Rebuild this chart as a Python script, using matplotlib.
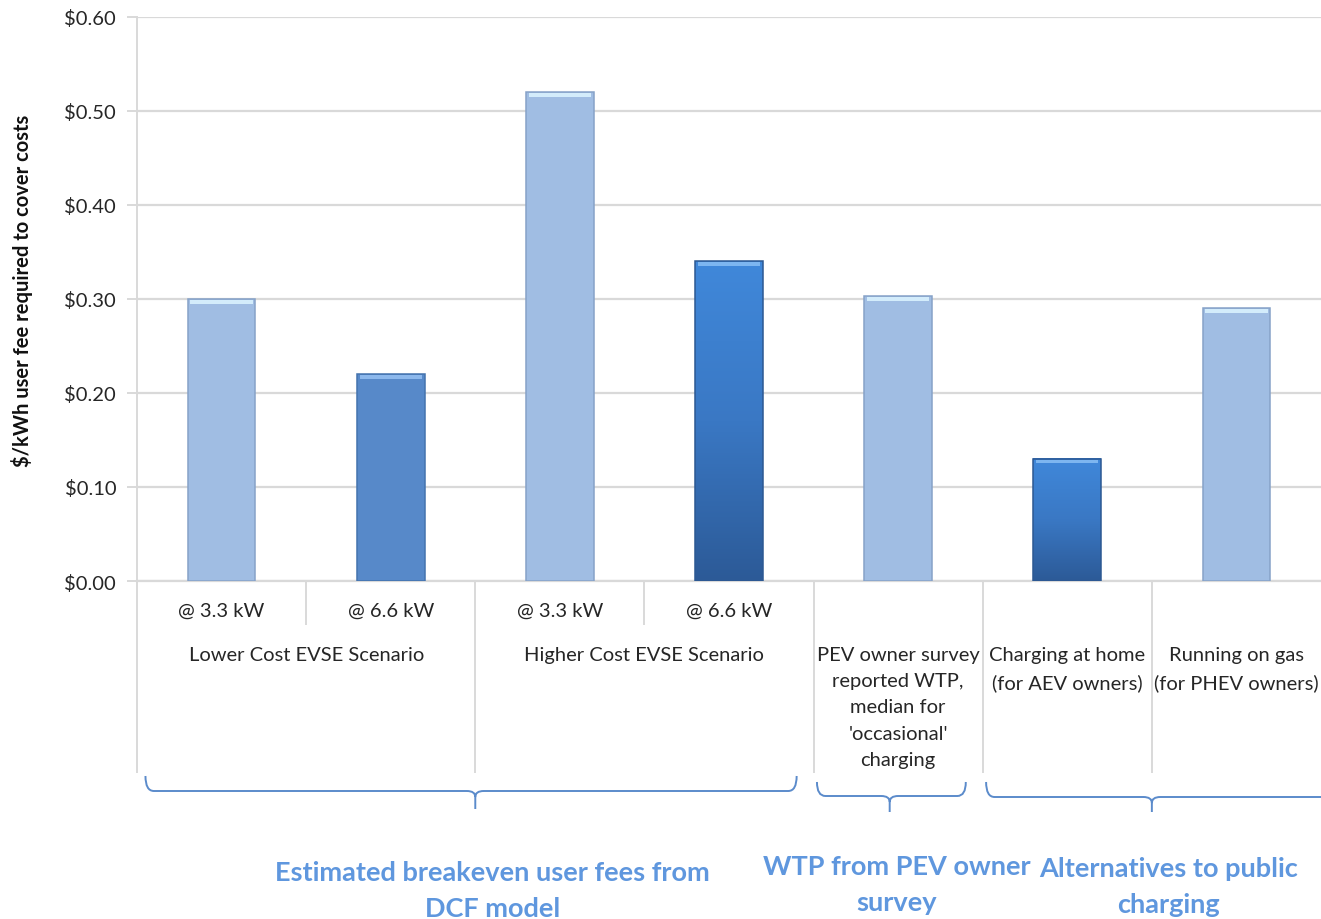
import matplotlib
matplotlib.use("Agg")
import matplotlib.pyplot as plt
import numpy as np
from matplotlib.colors import LinearSegmentedColormap
from matplotlib.patches import Rectangle, PathPatch
from matplotlib.path import Path

# ---- data ----
sub_labels = ["@ 3.3 kW", "@ 6.6 kW", "@ 3.3 kW", "@ 6.6 kW", "", "", ""]
cat_labels = ["Lower Cost EVSE Scenario", "Higher Cost EVSE Scenario",
              "PEV owner survey\nreported WTP,\nmedian for\n'occasional'\ncharging",
              "Charging at home\n(for AEV owners)",
              "Running on gas\n(for PHEV owners)"]
cat_spans = [(0, 1), (2, 3), (4, 4), (5, 5), (6, 6)]
fees = [0.30, 0.22, 0.52, 0.34, 0.303, 0.13, 0.29]
group_labels = ["Estimated breakeven user fees from\nDCF model",
                "WTP from PEV owner\nsurvey",
                "Alternatives to public\ncharging"]
group_spans = [(0, 3), (4, 4), (5, 6)]
y_ticks = [0.0, 0.1, 0.2, 0.3, 0.4, 0.5, 0.6]

# ---- styling ----
FONT = "Lato"
plt.rcParams["font.family"] = [FONT, "DejaVu Sans"]
bar_styles = ["light", "mid", "light", "dark", "light", "dark", "light"]
LIGHT = "#A0BDE3"
MID = "#5789C9"
dark_cmap = LinearSegmentedColormap.from_list("dk", ["#2C5A97", "#3A78C4", "#4088DA"])
edge_cols = {"light": "#86A2C8", "mid": "#4473AE", "dark": "#2C5892"}
hi_cols = {"light": "#D3ECFB", "mid": "#8CB8EC", "dark": "#7DB6F0"}
GRID = "#D9D9D9"
BRACE = "#5B8BCB"
GROUP_TXT = "#5F97DE"
TXT = "#262626"

W, H = 1321, 920
fig = plt.figure(figsize=(W / 100, H / 100), dpi=100)
ax_left, ax_top, ax_bot = 137, 18, 582
ax = fig.add_axes([ax_left / W, (H - ax_bot) / H, (W - ax_left) / W, (ax_bot - ax_top) / H])

n = len(fees)
x = np.arange(n)
bw = 0.40
bars = ax.bar(x, fees, width=bw, zorder=3)

for b, st in zip(bars, bar_styles):
    x0, w, h = b.get_x(), b.get_width(), b.get_height()
    b.set_edgecolor(edge_cols[st])
    b.set_linewidth(1.1)
    if st == "light":
        b.set_facecolor(LIGHT)
    elif st == "mid":
        b.set_facecolor(MID)
    else:
        b.set_facecolor("none")
        grad = np.linspace(0, 1, 256).reshape(-1, 1)
        ax.imshow(grad, extent=[x0, x0 + w, 0, h], origin="lower", aspect="auto",
                  cmap=dark_cmap, zorder=2.9, interpolation="bilinear")
    # bevelled top edge
    ax.add_patch(Rectangle((x0 + w * 0.04, h - 0.0048), w * 0.92, 0.0040,
                           facecolor=hi_cols[st], edgecolor="none", zorder=4))

ax.set_xlim(-0.5, n - 0.5)
ax.set_ylim(0, 0.6)
ax.set_yticks(y_ticks)
ax.set_yticklabels([f"${v:.2f}" for v in y_ticks], fontsize=14.5, color=TXT)
ax.yaxis.grid(True, color=GRID, linewidth=1.6, zorder=0)
ax.set_axisbelow(True)
ax.tick_params(axis="y", length=7, width=1.4, color=GRID, pad=8)
ax.tick_params(axis="x", length=0, labelbottom=False)
for s in ["top", "right"]:
    ax.spines[s].set_visible(False)
ax.spines["left"].set_color(GRID)
ax.spines["left"].set_linewidth(1.4)
ax.spines["bottom"].set_color(GRID)
ax.spines["bottom"].set_linewidth(1.6)

ax.set_ylabel("$/kWh user fee required to cover costs", fontsize=14.5, fontweight="bold",
              color="#111111")
ax.yaxis.set_label_coords(-0.088, 0.516)

# ---- multi-level category axis ----
trans = ax.get_xaxis_transform()
def yf(py):
    return (ax_bot - py) / (ax_bot - ax_top)

for i, lab in enumerate(sub_labels):
    if lab:
        ax.text(i, yf(611), lab, transform=trans, ha="center", va="center",
                fontsize=14.5, color=TXT)
# short separators between sub categories
for a, b in cat_spans:
    for k in range(a, b):
        ax.plot([k + 0.5, k + 0.5], [0, yf(625)], transform=trans, color=GRID,
                lw=1.4, clip_on=False)
# long separators at category boundaries
bounds = sorted(set([a - 0.5 for a, _ in cat_spans]))
for bx in bounds:
    ax.plot([bx, bx], [0, yf(773)], transform=trans, color=GRID, lw=1.4, clip_on=False)

for lab, (a, b) in zip(cat_labels, cat_spans):
    ax.text((a + b) / 2, yf(647), lab, transform=trans, ha="center", va="top",
            fontsize=14.5, color=TXT, linespacing=1.66)

# ---- braces ----
def brace(xl, xr, xc, y_end, y_line, y_tip, r=0.05):
    # xl, xr, xc in data units; y in pixel rows
    yl, yt, ye = yf(y_line), yf(y_tip), yf(y_end)
    ry = yf(y_line - 6) - yl
    verts = [(xl, ye), (xl, yl), (xl + r, yl),
             (xc - r, yl), (xc, yl), (xc, yl - ry),
             (xc, yt), (xc, yl - ry), (xc, yl), (xc + r, yl),
             (xr - r, yl), (xr, yl), (xr, ye)]
    codes = [Path.MOVETO, Path.CURVE3, Path.CURVE3,
             Path.LINETO, Path.CURVE3, Path.CURVE3,
             Path.LINETO, Path.MOVETO, Path.CURVE3, Path.CURVE3,
             Path.LINETO, Path.CURVE3, Path.CURVE3]
    p = PathPatch(Path(verts, codes), transform=trans, facecolor="none",
                  edgecolor=BRACE, lw=1.4, clip_on=False)
    ax.add_patch(p)

brace_rows = [(777, 792, 810), (783, 797, 813), (783, 798, 813)]
for (a, b), (ye, yl, yt) in zip(group_spans, brace_rows):
    xl = a - 0.45 - (0.0 if a == 0 else 0.03)
    xr = b + 0.40
    xc = (a + b) / 2 - (0.05 if a == b else 0)
    if b == n - 1:
        xr = n - 0.48 + 0.3
    brace(xl, xr, xc, ye, yl, yt)

group_y = [891, 885, 887]
group_dx = [0.1, -0.01, 0.1]
for lab, (a, b), gy, dx in zip(group_labels, group_spans, group_y, group_dx):
    ax.text((a + b) / 2 + dx, yf(gy), lab, transform=trans,
            ha="center", va="center", fontsize=19.5, fontweight="bold",
            color=GROUP_TXT, linespacing=1.62)

fig.savefig("out.png", dpi=100)
